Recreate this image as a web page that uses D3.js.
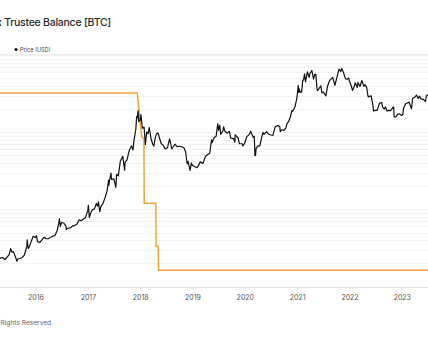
<!DOCTYPE html>
<html><head><meta charset="utf-8">
<script src="https://cdn.jsdelivr.net/npm/d3@7"></script>
<style>html,body{margin:0;padding:0;background:#fff;overflow:hidden}svg{display:block}</style>
</head><body>
<svg id="c" width="428" height="337"></svg>
<script>
const titleText = "Bitcoin: Mt. Gox Trustee Balance [BTC]";
const legendLabel = "Price (USD)";
const footerText = "© 2023 Glassnode. All Rights Reserved.";
const yearTicks = ["2016","2017","2018","2019","2020","2021","2022","2023"];

const balanceDates = ["2015-04-01","2017-12-12","2018-01-11","2018-01-27","2018-01-29","2018-04-20","2018-04-22","2018-05-07","2018-05-09","2023-07-06"];
const balanceValues = [202185,202185,187300,186500,164600,164600,149800,149800,141686,141686];

const priceDates = [
"2015-04-01","2015-04-15","2015-05-01","2015-05-15","2015-06-01","2015-06-15","2015-07-01","2015-07-12","2015-07-20","2015-08-01","2015-08-18","2015-08-24","2015-09-01","2015-09-15","2015-10-01","2015-10-15","2015-11-01","2015-11-04","2015-11-11","2015-11-18","2015-12-01","2015-12-15","2015-12-31",
"2016-01-08","2016-01-15","2016-02-01","2016-02-15","2016-03-01","2016-03-15","2016-04-01","2016-04-15","2016-05-01","2016-05-15","2016-06-01","2016-06-12","2016-06-16","2016-06-22","2016-07-01","2016-07-15","2016-08-01","2016-08-03","2016-08-15","2016-09-01","2016-09-15","2016-10-01","2016-10-15","2016-11-01","2016-11-15","2016-12-01","2016-12-15","2016-12-31",
"2017-01-04","2017-01-11","2017-01-20","2017-02-01","2017-02-15","2017-03-01","2017-03-10","2017-03-15","2017-03-25","2017-04-01","2017-04-15","2017-05-01","2017-05-15","2017-05-25","2017-05-27","2017-06-01","2017-06-11","2017-06-15","2017-07-01","2017-07-15","2017-07-20","2017-08-01","2017-08-15","2017-09-01","2017-09-14","2017-09-18","2017-10-01","2017-10-15","2017-11-01","2017-11-12","2017-11-18","2017-12-01","2017-12-07","2017-12-10","2017-12-17","2017-12-22","2017-12-31",
"2018-01-06","2018-01-16","2018-01-28","2018-02-06","2018-02-15","2018-02-25","2018-03-05","2018-03-18","2018-03-31","2018-04-06","2018-04-15","2018-04-24","2018-05-05","2018-05-15","2018-05-28","2018-06-10","2018-06-24","2018-07-10","2018-07-25","2018-08-10","2018-08-15","2018-09-01","2018-09-15","2018-10-01","2018-10-15","2018-11-01","2018-11-14","2018-11-20","2018-11-25","2018-12-01","2018-12-15","2018-12-24","2018-12-31",
"2019-01-15","2019-02-01","2019-02-08","2019-02-24","2019-03-15","2019-04-02","2019-04-15","2019-05-01","2019-05-14","2019-05-17","2019-06-01","2019-06-15","2019-06-26","2019-07-02","2019-07-10","2019-07-17","2019-08-01","2019-08-06","2019-08-15","2019-09-01","2019-09-15","2019-09-25","2019-10-15","2019-10-23","2019-10-26","2019-11-15","2019-11-25","2019-12-15","2019-12-18","2019-12-31",
"2020-01-15","2020-02-01","2020-02-12","2020-02-15","2020-02-29","2020-03-07","2020-03-12","2020-03-16","2020-03-20","2020-04-01","2020-04-15","2020-04-29","2020-05-07","2020-05-15","2020-06-01","2020-06-15","2020-07-01","2020-07-15","2020-07-27","2020-08-01","2020-08-17","2020-09-01","2020-09-05","2020-09-15","2020-10-01","2020-10-15","2020-10-21","2020-11-01","2020-11-15","2020-11-24","2020-12-01","2020-12-16","2020-12-27","2020-12-31",
"2021-01-08","2021-01-12","2021-01-15","2021-01-22","2021-02-01","2021-02-08","2021-02-15","2021-02-21","2021-02-28","2021-03-13","2021-03-25","2021-04-01","2021-04-13","2021-04-25","2021-05-03","2021-05-11","2021-05-19","2021-05-23","2021-06-01","2021-06-15","2021-06-22","2021-07-01","2021-07-20","2021-08-01","2021-08-15","2021-09-06","2021-09-21","2021-10-01","2021-10-20","2021-11-01","2021-11-08","2021-11-20","2021-12-04","2021-12-15","2021-12-27","2021-12-31",
"2022-01-10","2022-01-22","2022-02-01","2022-02-10","2022-02-24","2022-03-01","2022-03-15","2022-03-28","2022-04-11","2022-04-20","2022-05-01","2022-05-09","2022-05-12","2022-06-01","2022-06-13","2022-06-18","2022-07-01","2022-07-13","2022-07-29","2022-08-14","2022-08-20","2022-09-01","2022-09-09","2022-09-20","2022-10-01","2022-10-15","2022-10-29","2022-11-05","2022-11-09","2022-11-21","2022-12-01","2022-12-15","2022-12-31",
"2023-01-08","2023-01-14","2023-01-29","2023-02-15","2023-02-20","2023-03-10","2023-03-17","2023-03-31","2023-04-14","2023-04-25","2023-05-05","2023-05-15","2023-06-01","2023-06-15","2023-06-22","2023-07-01","2023-07-06"];
const priceValues = [
247,220,232,237,223,237,258,310,278,280,230,212,228,230,237,255,325,400,310,325,378,445,430,
455,380,372,400,435,415,417,430,450,455,535,670,760,600,675,665,605,545,570,575,608,615,640,730,710,750,780,963,
1130,780,895,985,1010,1190,1100,1250,935,1085,1180,1420,1750,2400,2050,2400,2950,2450,2480,1930,2850,2720,4200,4900,3230,4100,4400,5700,6700,5900,7800,10800,16000,15000,19100,13800,14100,
17000,11300,11700,6900,10100,9600,11500,8200,6900,6600,8300,9600,9800,8500,7100,6800,6100,6300,8200,6100,6300,7000,6500,6600,6500,6350,5600,4500,3900,4200,3200,4000,3740,
3600,3470,3600,4130,3950,4900,5100,5350,8000,7300,8550,8900,12900,10600,12300,9400,10400,11800,10300,9750,10300,8400,8300,7450,9250,8500,7100,7100,6650,7200,
8800,9350,10350,9900,8550,8900,4970,5000,6200,6650,6650,8800,9950,9400,10200,9450,9230,9150,11000,11800,12300,11900,10200,10800,10600,11500,12900,13750,15950,19150,18800,21300,26300,29000,
40600,33000,36800,33000,33500,46200,48700,57500,45200,61200,51700,58800,63500,49000,56600,56700,37000,34800,36700,40200,32500,33500,29800,39900,47000,51800,40700,48200,66000,61300,67500,59800,49400,48900,50700,46300,
41800,35000,38700,44000,38300,44400,39300,47100,39500,41500,38400,30100,28900,29800,22500,19000,19300,19300,23800,24400,21200,20000,21400,18900,19300,19100,20800,21300,15900,15800,17000,17400,16550,
17100,20900,23700,24300,24800,20200,27400,28500,30500,27500,29500,27200,26800,25100,30000,30600,30100];

const svg = d3.select("#c");
const W = 428, H = 337;
const plotTop = 54, plotBottom = 287;
const parse = d3.utcParse("%Y-%m-%d");

const x = d3.scaleUtc()
  .domain([parse("2016-01-01"), parse("2023-01-01")])
  .range([35.5, 401.8]);
const yPrice = d3.scaleLog().domain([98, 104000]).range([plotBottom, plotTop]);
const yBal = d3.scaleLinear().domain([136000, 215500]).range([plotBottom, plotTop]);

// title
svg.append("text").attr("x", 111).attr("y", 26).attr("text-anchor", "end")
  .attr("font-family", "Inter, 'Open Sans', sans-serif").attr("font-size", 10.5)
  .attr("letter-spacing", -0.25)
  .attr("font-weight", 500).attr("fill", "#2b2b2b").text(titleText);

// legend
svg.append("circle").attr("cx", 16).attr("cy", 49.5).attr("r", 1.6).attr("fill", "#111");
svg.append("text").attr("x", 20).attr("y", 51.5)
  .attr("font-family", "Inter, sans-serif").attr("font-size", 5.5).attr("fill", "#444").text(legendLabel);
svg.append("line").attr("x1", 0).attr("x2", W).attr("y1", 54.5).attr("y2", 54.5)
  .attr("stroke", "#ececec").attr("stroke-width", 1);

// gridlines (log ticks of the price axis)
const gridVals = yPrice.ticks().filter(v => yPrice(v) > plotTop + 1 && yPrice(v) < plotBottom - 1);
svg.append("g").selectAll("line").data(gridVals).join("line")
  .attr("x1", 0).attr("x2", W)
  .attr("y1", d => Math.round(yPrice(d)) + 0.5).attr("y2", d => Math.round(yPrice(d)) + 0.5)
  .attr("stroke", "#f2f2f2").attr("stroke-width", 1);

// x axis
const xAxis = d3.axisBottom(x)
  .tickValues(yearTicks.map(t => parse(t + "-01-01")))
  .tickFormat(d3.utcFormat("%Y")).tickSize(3).tickPadding(5);
const gx = svg.append("g").attr("transform", `translate(0,${plotBottom})`).call(xAxis);
gx.select(".domain").remove();
gx.selectAll(".tick line").attr("stroke", "#e4e4e4");
gx.selectAll(".tick text").attr("font-family", "Inter, sans-serif").attr("font-size", 7).attr("fill", "#555");
svg.append("line").attr("x1", 0).attr("x2", W).attr("y1", plotBottom + 0.5).attr("y2", plotBottom + 0.5)
  .attr("stroke", "#e6e6e6");

// balance line
const balData = balanceDates.map((d, i) => ({ d: parse(d), v: balanceValues[i] }));
svg.append("path").datum(balData)
  .attr("d", d3.line().x(p => x(p.d)).y(p => yBal(p.v)))
  .attr("fill", "none").attr("stroke", "#eea33e").attr("stroke-width", 1.5);

// price line
const priceData = priceDates.map((d, i) => ({ d: parse(d), v: priceValues[i] }));
svg.append("path").datum(priceData)
  .attr("d", d3.line().x(p => x(p.d)).y(p => yPrice(p.v)))
  .attr("fill", "none").attr("stroke", "#111").attr("stroke-width", 1.2).attr("stroke-linejoin", "round");

// footer
svg.append("text").attr("x", 53).attr("y", 325).attr("text-anchor", "end")
  .attr("font-family", "Inter, sans-serif").attr("font-size", 6.6).attr("fill", "#666").text(footerText);
</script>
</body></html>
